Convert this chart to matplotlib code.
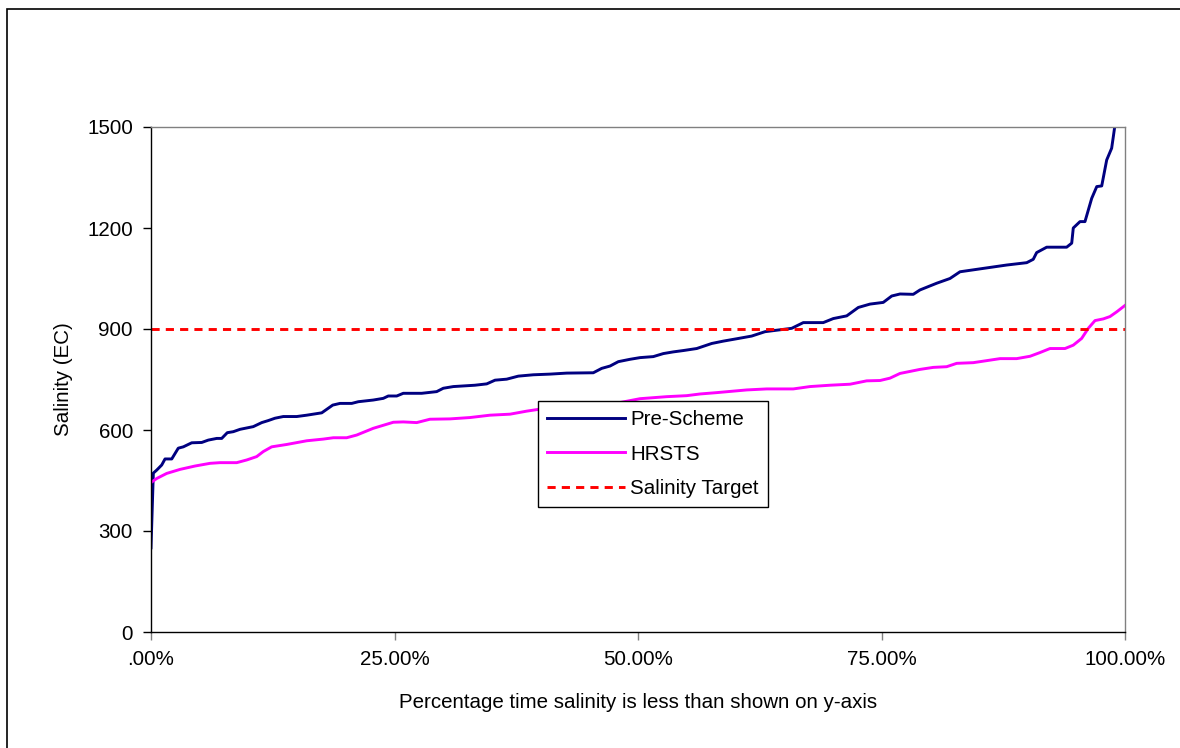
import numpy as np
import matplotlib
matplotlib.use("Agg")
import matplotlib.pyplot as plt
from matplotlib.ticker import FuncFormatter
from matplotlib.patches import Rectangle

plt.rcParams['font.family'] = ['Liberation Sans', 'DejaVu Sans']

# exceedance curves: percentage of time vs salinity (EC)
pre_pct = [0.0, 0.24, 0.59, 1.10, 1.44, 2.13, 2.80, 3.32, 4.18, 5.21, 5.88, 6.75, 7.26,
           7.83, 8.45, 9.14, 10.50, 11.37, 12.04, 12.73, 13.58, 14.96, 15.99, 17.53,
           18.66, 19.40, 20.61, 21.28, 22.82, 23.85, 24.36, 25.23, 25.90, 27.79, 29.33,
           30.01, 31.04, 33.26, 34.47, 35.32, 36.52, 37.71, 39.25, 40.97, 42.68, 45.41,
           46.27, 47.13, 47.98, 49.18, 50.21, 51.57, 52.60, 53.62, 54.65, 56.03, 57.57,
           58.76, 60.13, 61.67, 63.04, 64.40, 65.78, 66.97, 69.02, 70.05, 71.43, 72.62,
           73.82, 75.18, 76.05, 76.90, 78.26, 78.95, 80.67, 82.03, 83.06, 85.45, 87.85,
           89.91, 90.58, 90.93, 91.96, 94.01, 94.53, 94.69, 95.38, 95.89, 96.58, 97.10,
           97.61, 98.12, 98.63, 98.80, 98.97, 100.0]
pre_ec = [250, 472, 481, 496, 514, 514, 546, 550, 562, 563, 570, 575, 575,
          592, 595, 602, 610, 622, 628, 635, 640, 640, 644, 651,
          674, 679, 679, 684, 689, 694, 701, 701, 709, 709, 714,
          724, 729, 733, 737, 748, 751, 760, 764, 766, 769, 770,
          783, 790, 803, 810, 815, 818, 827, 832, 836, 842, 857,
          864, 871, 879, 892, 897, 902, 919, 919, 931, 939, 964,
          974, 979, 998, 1004, 1003, 1016, 1036, 1050, 1070, 1080, 1090,
          1097, 1107, 1127, 1143, 1143, 1155, 1200, 1219, 1219, 1288, 1323,
          1325, 1402, 1437, 1471, 1506, 1650]

hrsts_pct = [0.0, 0.59, 1.61, 2.98, 4.52, 6.06, 7.08, 8.80, 9.83, 10.85, 11.53, 12.39,
             13.93, 15.99, 17.69, 18.72, 20.09, 21.12, 22.82, 24.88, 25.90, 27.28, 28.64,
             30.70, 32.75, 34.80, 36.86, 38.57, 39.94, 43.30, 46.79, 50.21, 52.95, 55.00,
             56.37, 58.08, 61.16, 63.21, 65.94, 67.66, 69.71, 71.77, 73.48, 74.85, 75.87,
             76.90, 78.95, 80.32, 81.69, 82.72, 84.42, 85.80, 87.17, 88.88, 90.25, 91.27,
             92.30, 93.84, 94.69, 95.55, 96.23, 96.92, 97.77, 98.46, 99.15, 100.0]
hrsts_ec = [444, 456, 471, 483, 493, 501, 503, 503, 511, 521, 536, 550,
            557, 568, 573, 577, 577, 585, 605, 623, 624, 622, 632,
            633, 637, 644, 647, 656, 662, 667, 674, 693, 699, 702,
            707, 711, 719, 722, 722, 729, 733, 736, 746, 747, 754,
            768, 780, 786, 788, 798, 800, 806, 812, 812, 819, 830,
            842, 842, 852, 872, 902, 925, 930, 937, 951, 970]

target_ec = 900

FS = 14.75

fig = plt.figure(figsize=(11.8, 7.48), dpi=100)
ax = fig.add_axes([151 / 1180, 1 - 632 / 748, 974 / 1180, 505 / 748])

ax.plot(np.array(pre_pct) / 100, pre_ec, color='#000080', lw=2.1, label='Pre-Scheme')
ax.plot(np.array(hrsts_pct) / 100, hrsts_ec, color='#FF00FF', lw=2.1, label='HRSTS')
ax.axhline(target_ec, color='#FF0000', lw=2.1, dashes=(2.8, 2.1), label='Salinity Target')

ax.set_xlim(0, 1)
ax.set_ylim(0, 1500)
ax.set_yticks([0, 300, 600, 900, 1200, 1500])
ax.set_xticks([0, 0.25, 0.5, 0.75, 1.0])


def pct_fmt(v, pos):
    s = f"{v * 100:.2f}%"
    return s[1:] if s.startswith("0") else s


ax.xaxis.set_major_formatter(FuncFormatter(pct_fmt))
ax.tick_params(axis='y', direction='out', length=6, width=1, color='black',
               labelsize=FS, pad=7)
ax.tick_params(axis='x', direction='out', length=6, width=1, color='#808080',
               labelsize=FS, pad=7)

ax.spines['left'].set_color('black')
ax.spines['bottom'].set_color('black')
ax.spines['top'].set_color('#808080')
ax.spines['right'].set_color('#808080')
for sp in ax.spines.values():
    sp.set_linewidth(1.0)

ax.set_xlabel('Percentage time salinity is less than shown on y-axis', fontsize=FS,
              labelpad=17)
ax.set_ylabel('Salinity (EC)', fontsize=FS, labelpad=10)

leg = ax.legend(loc='upper left', bbox_to_anchor=(538 / 1180, 1 - 401 / 748),
                bbox_transform=fig.transFigure, fontsize=FS, frameon=True,
                fancybox=False, framealpha=1, edgecolor='black', borderaxespad=0,
                handlelength=3.8, handletextpad=0.25, labelspacing=0.75,
                borderpad=0.45)
leg.get_frame().set_linewidth(1.0)

# outer chart border
fig.patches.append(Rectangle((7 / 1180, -0.05), 1.2, 1 - 8.5 / 748 + 0.05,
                             transform=fig.transFigure, fill=False,
                             edgecolor='black', lw=1.2))

fig.savefig('out.png', dpi=100)
